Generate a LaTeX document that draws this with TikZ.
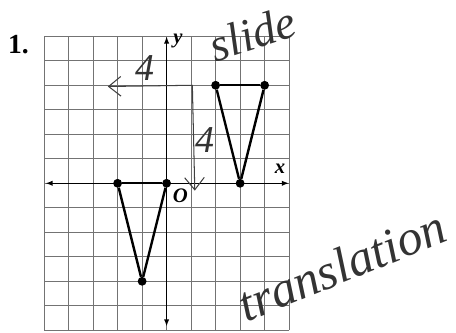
\documentclass[tikz,border=0pt]{standalone}
\usepackage{fontspec}
\setmainfont{Liberation Serif}
\usetikzlibrary{arrows.meta}
\tikzset{
  gridline/.style={line width=0.7pt, black!55},
  axis/.style={line width=1.8pt, {Latex[length=3mm,width=2.2mm]}-{Latex[length=3mm,width=2.2mm]}},
  tri/.style={line width=2.8pt, line join=round},
  dot/.style={circle, fill=black, inner sep=0pt, minimum size=3.6mm},
  lab/.style={font=\fontsize{24}{26}\selectfont\bfseries\itshape},
  hand/.style={font=\fontsize{#1}{#1}\selectfont\itshape, text=black!80, inner sep=0pt},
  hand/.default=54,
  pen/.style={line width=1.2pt, black!75, line cap=round, -{Straight Barb[length=5mm,width=8mm]}}}

\begin{document}
\begin{tikzpicture}
  \useasboundingbox (-6.80,-6.11) rectangle (11.81,7.48);
  % grid and axes
  \draw[gridline] (-5,-6) grid (5,6);
  \draw[axis] (-4.95,0) -- (5,0);
  \draw[axis] (0,-5.85) -- (0,6);
  \node[font=\fontsize{32}{34}\selectfont\bfseries] (num) at (-6.05,5.64) {1.};
  \node[lab] (ylab) at (0.46,5.8) {y};
  \node[lab] (xlab) at (4.63,0.6) {x};
  \node[lab] (olab) at (0.56,-0.5) {O};
  % original triangle
  \node[dot] (a1) at (-2,0) {};
  \node[dot] (a2) at (0,0) {};
  \node[dot] (a3) at (-1,-4) {};
  \draw[tri] (a1) -- (a2);
  \draw[tri] (a2) -- (a3);
  \draw[tri] (a3) -- (a1);
  % image triangle
  \node[dot] (b1) at (2,4) {};
  \node[dot] (b2) at (4,4) {};
  \node[dot] (b3) at (3,0) {};
  \draw[tri] (b1) -- (b2);
  \draw[tri] (b2) -- (b3);
  \draw[tri] (b3) -- (b1);
  % handwritten notes
  \coordinate (corner) at (1.05,4);
  \coordinate (lefttip) at (-2.4,3.95);
  \coordinate (downtip) at (1.15,-0.3);
  \draw[pen] (corner) -- (lefttip);
  \draw[pen] (corner) -- (downtip);
  \node[hand=44] (four1) at (-0.89,4.71) {4};
  \node[hand=44] (four2) at (1.57,1.77) {4};
  \node[hand, rotate=18] (slide) at (3.5,6.1) {slide};
  \node[hand=58, rotate=22] (trans) at (7.15,-3.35) {translation};
\end{tikzpicture}
\end{document}
